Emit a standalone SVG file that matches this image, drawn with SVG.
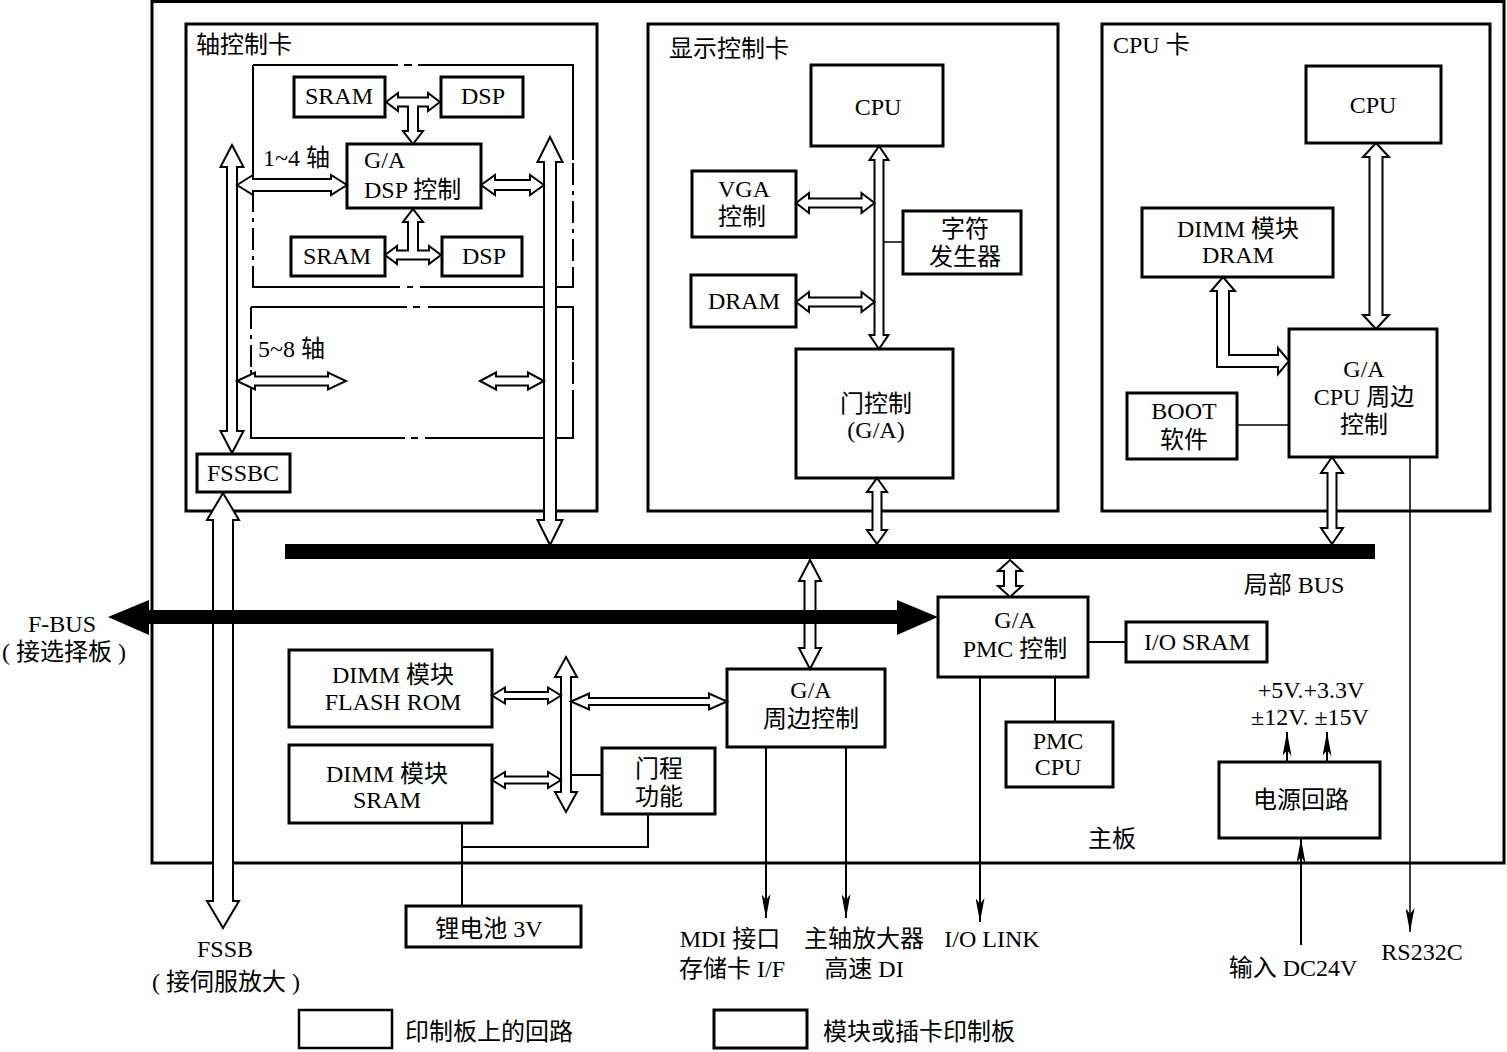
<svg xmlns="http://www.w3.org/2000/svg" width="1507" height="1052" viewBox="0 0 1507 1052">
<style>
.box{fill:none;stroke:#000;stroke-width:3}
.card{fill:none;stroke:#000;stroke-width:3}
.dl{fill:none;stroke:#000;stroke-width:2}
.dd{fill:none;stroke:#000;stroke-width:2;stroke-dasharray:22 6 4 6}
.ha{fill:#fff;stroke:#000;stroke-width:2;stroke-linejoin:miter}
.ln{fill:none;stroke:#000;stroke-width:2}
.lt{fill:none;stroke:#000;stroke-width:1.5}
.t{font-family:"Liberation Serif","Noto Sans CJK SC",serif;font-size:24px;fill:#000}
.c{text-anchor:middle}
</style>
<defs>
<marker id="fa" viewBox="0 0 24 9" refX="24" refY="4.5" markerWidth="24" markerHeight="9" markerUnits="userSpaceOnUse" orient="auto">
<path d="M0,0 L24,4.5 L0,9 L6,4.5 Z" fill="#000"/>
</marker>
</defs>
<rect width="1507" height="1052" fill="#fff"/>

<g id="mainboard">
<rect class="card" x="152" y="1.5" width="1352" height="861.5"/>
<text class="t" x="1088" y="847">主板</text>
</g>

<g id="axis-card">
<rect class="card" x="186" y="24" width="411" height="487"/>
<text class="t" x="196" y="53">轴控制卡</text>
<path class="dl" d="M253,65 H398 M404,65 H412 M418,65 H573 V160 M573,270 V287 H420 M413,287 H407 M400,287 H253 V270 M253,190 V65"/>
<path class="dd" d="M573,163 V270 M253,190 V270"/>
<path class="dl" d="M251,370 V438 H405 M411,438 H418 M425,438 H573 V390 M573,360 V307 H428 M420,307 H413 M407,307 H400 H251"/>
<path class="dd" d="M251,307 V370 M573,362 V390"/>
<text class="t" x="263" y="166">1~4 轴</text>
<text class="t" x="258" y="357">5~8 轴</text>
</g>

<g id="sram1"><rect class="box" x="294" y="77" width="91" height="40"/><text class="t c" x="339" y="104">SRAM</text></g>
<g id="dsp1"><rect class="box" x="441" y="77" width="82" height="40"/><text class="t c" x="483" y="104">DSP</text></g>
<g id="ga-dsp"><rect class="box" x="347" y="144" width="134" height="64"/><text class="t" x="364" y="168">G/A</text><text class="t" x="364" y="198">DSP 控制</text></g>
<g id="sram2"><rect class="box" x="291" y="237" width="94" height="39"/><text class="t c" x="337" y="264">SRAM</text></g>
<g id="dsp2"><rect class="box" x="442" y="237" width="80" height="39"/><text class="t c" x="484" y="264">DSP</text></g>
<g id="fssbc"><rect class="box" x="197" y="454" width="93" height="38"/><text class="t c" x="243" y="481">FSSBC</text></g>

<g id="display-card">
<rect class="card" x="648" y="24" width="410" height="487"/>
<text class="t" x="669" y="57">显示控制卡</text>
</g>
<g id="disp-cpu"><rect class="box" x="811" y="65" width="132" height="81"/><text class="t c" x="878" y="115">CPU</text></g>
<g id="vga"><rect class="box" x="692" y="171" width="104" height="66"/><text class="t c" x="744" y="197">VGA</text><text class="t c" x="742" y="225">控制</text></g>
<g id="disp-dram"><rect class="box" x="691" y="275" width="105" height="52"/><text class="t c" x="744" y="309">DRAM</text></g>
<g id="chargen"><rect class="box" x="903" y="211" width="118" height="63"/><text class="t c" x="965" y="237">字符</text><text class="t c" x="965" y="265">发生器</text></g>
<g id="gate-ctrl"><rect class="box" x="796" y="349" width="157" height="129"/><text class="t c" x="876" y="412">门控制</text><text class="t c" x="876" y="438">(G/A)</text></g>

<g id="cpu-card">
<rect class="card" x="1102" y="24" width="388" height="487"/>
<text class="t" x="1113" y="53">CPU 卡</text>
</g>
<g id="cpu"><rect class="box" x="1306" y="66" width="135" height="77"/><text class="t c" x="1373" y="113">CPU</text></g>
<g id="dimm-dram"><rect class="box" x="1142" y="208" width="191" height="69"/><text class="t c" x="1238" y="237">DIMM 模块</text><text class="t c" x="1238" y="263">DRAM</text></g>
<g id="ga-cpu"><rect class="box" x="1289" y="329" width="148" height="128"/><text class="t c" x="1364" y="377">G/A</text><text class="t c" x="1364" y="405">CPU 周边</text><text class="t c" x="1364" y="433">控制</text></g>
<g id="boot"><rect class="box" x="1127" y="393" width="110" height="66"/><text class="t c" x="1184" y="419">BOOT</text><text class="t c" x="1184" y="448">软件</text></g>

<g id="dimm-flash"><rect class="box" x="289" y="650" width="203" height="77"/><text class="t c" x="393" y="683">DIMM 模块</text><text class="t c" x="393" y="710">FLASH ROM</text></g>
<g id="dimm-sram"><rect class="box" x="289" y="745" width="203" height="78"/><text class="t c" x="387" y="782">DIMM 模块</text><text class="t c" x="387" y="808">SRAM</text></g>
<g id="ga-periph"><rect class="box" x="727" y="669" width="158" height="78"/><text class="t c" x="811" y="698">G/A</text><text class="t c" x="811" y="727">周边控制</text></g>
<g id="prog"><rect class="box" x="602" y="748" width="113" height="66"/><text class="t c" x="659" y="777">门程</text><text class="t c" x="659" y="805">功能</text></g>
<g id="ga-pmc"><rect class="box" x="938" y="597" width="150" height="80"/><text class="t c" x="1015" y="628">G/A</text><text class="t c" x="1015" y="657">PMC 控制</text></g>
<g id="io-sram"><rect class="box" x="1126" y="622" width="141" height="40"/><text class="t c" x="1197" y="650">I/O SRAM</text></g>
<g id="pmc-cpu"><rect class="box" x="1006" y="722" width="107" height="65"/><text class="t c" x="1058" y="749">PMC</text><text class="t c" x="1058" y="775">CPU</text></g>
<g id="battery"><rect class="box" x="406" y="906" width="175" height="41"/><text class="t c" x="489" y="937">锂电池 3V</text></g>
<g id="power"><rect class="box" x="1219" y="762" width="161" height="76"/><text class="t c" x="1301" y="808">电源回路</text></g>

<g id="connectors">
<polygon class="ha" points="386,102 398,93 398,97.5 428,97.5 428,93 440,102 428,111 428,106.5 418,106.5 418,131 423,131 413,144 403,131 408,131 408,106.5 398,106.5 398,111"/>
<polygon class="ha" points="385,255 397,246 397,250.5 408,250.5 408,222 403,222 413,209 423,222 418,222 418,250.5 429,250.5 429,246 441,255 429,264 429,259.5 397,259.5 397,264"/>
<polygon class="ha" points="232,145 243.5,167 237,167 237,431 243.5,431 232,453 220.5,431 227,431 227,167 220.5,167"/>
<polygon class="ha" points="550,137 562.5,162 556,162 556,520 562.5,520 550,545 537.5,520 544,520 544,162 537.5,162"/>
<polygon class="ha" points="237,185 253,175 253,179 331,179 331,175 347,185 331,195 331,191 253,191 253,195"/>
<polygon class="ha" points="481,185 495,175 495,180 530,180 530,175 544,185 530,195 530,190 495,190 495,195"/>
<polygon class="ha" points="237,381 255,372.5 255,376.5 328,376.5 328,372.5 346,381 328,389.5 328,385.5 255,385.5 255,389.5"/>
<polygon class="ha" points="480,381 496,372.5 496,376.5 528,376.5 528,372.5 544,381 528,389.5 528,385.5 496,385.5 496,389.5"/>
<polygon class="ha" points="223,493 239,520 233,520 233,901 239,901 223,928 207,901 213,901 213,520 207,520"/>
<polygon class="ha" points="879,146 888.5,160 883.5,160 883.5,335 888.5,335 879,349 869.5,335 874.5,335 874.5,160 869.5,160"/>
<polygon class="ha" points="796,203 809,193 809,198.5 861.5,198.5 861.5,193 874.5,203 861.5,213 861.5,207.5 809,207.5 809,213"/>
<polygon class="ha" points="796,302 809,292 809,297.5 861.5,297.5 861.5,292 874.5,302 861.5,312 861.5,306.5 809,306.5 809,312"/>
<path class="lt" d="M883.5,242 H903"/>
<polygon class="ha" points="877,478 887,492 881.5,492 881.5,530 887,530 877,544 867,530 872.5,530 872.5,492 867,492"/>
<polygon class="ha" points="1376,143 1389,157 1382.5,157 1382.5,315 1389,315 1376,329 1363,315 1369.5,315 1369.5,157 1363,157"/>
<polygon class="ha" points="1223,277 1235,291 1229,291 1229,355 1278,355 1278,348 1289,361 1278,374 1278,367 1217,367 1217,291 1211,291"/>
<path class="lt" d="M1237,425 H1289"/>
<polygon class="ha" points="1332,457 1343,473 1336.5,473 1336.5,528 1343,528 1332,544 1321,528 1327.5,528 1327.5,473 1321,473"/>
<path class="lt" d="M1410,457 V932" marker-end="url(#fa)"/>
<rect x="285" y="544" width="1090" height="15" fill="#000"/>
<text class="t c" x="1294" y="593">局部 BUS</text>
<polygon class="ha" points="810,560 821,581 815.5,581 815.5,648 821,648 810,669 799,648 804.5,648 804.5,581 799,581"/>
<polygon class="ha" points="1010,560 1022,571 1016,571 1016,586 1022,586 1010,597 998,586 1004,586 1004,571 998,571"/>
<polygon class="ha" points="566,657 577,677 571,677 571,792 577,792 566,812 555,792 561,792 561,677 555,677"/>
<polygon class="ha" points="492,695.5 505,687.5 505,692 548,692 548,687.5 561,695.5 548,703.5 548,699 505,699 505,703.5"/>
<polygon class="ha" points="492,780 505,772 505,776.5 548,776.5 548,772 561,780 548,788 548,783.5 505,783.5 505,788"/>
<polygon class="ha" points="571,701.5 589,693.5 589,698 709,698 709,693.5 727,701.5 709,709.5 709,705 589,705 589,709.5"/>
<path class="ln" d="M571,775 H602"/>
<path class="ln" d="M648,814 V847 H462 M462,823 V906"/>
<polygon fill="#000" points="108,617 149,600 149,610 897,610 897,600 938,617 897,635 897,624 149,624 149,635"/>
<text class="t c" x="62" y="632">F-BUS</text>
<text class="t c" x="64" y="660">( 接选择板 )</text>
<path class="ln" d="M1088,642 H1126 M1055,677 V722"/>
<path class="ln" d="M766,747 V918" marker-end="url(#fa)"/>
<path class="ln" d="M846,747 V918" marker-end="url(#fa)"/>
<path class="ln" d="M980,677 V922" marker-end="url(#fa)"/>
<path class="ln" d="M1287,762 V732" marker-end="url(#fa)"/>
<path class="ln" d="M1327,762 V732" marker-end="url(#fa)"/>
<path class="ln" d="M1301,945 V839" marker-end="url(#fa)"/>
</g>

<g id="labels">
<text class="t c" x="1311" y="698">+5V.+3.3V</text>
<text class="t c" x="1310" y="725">±12V. ±15V</text>
<text class="t c" x="1293" y="976">输入 DC24V</text>
<text class="t c" x="1422" y="960">RS232C</text>
<text class="t c" x="225" y="957">FSSB</text>
<text class="t c" x="226" y="990">( 接伺服放大 )</text>
<text class="t c" x="730" y="947">MDI 接口</text>
<text class="t c" x="732" y="977">存储卡 I/F</text>
<text class="t c" x="864" y="947">主轴放大器</text>
<text class="t c" x="864" y="977">高速 DI</text>
<text class="t c" x="992" y="947">I/O LINK</text>
</g>

<g id="legend">
<rect x="299" y="1010" width="93" height="38" fill="none" stroke="#000" stroke-width="2.5"/>
<text class="t" x="405" y="1040">印制板上的回路</text>
<rect x="714" y="1010" width="93" height="38" fill="none" stroke="#000" stroke-width="3"/>
<text class="t" x="823" y="1040">模块或插卡印制板</text>
</g>
</svg>
